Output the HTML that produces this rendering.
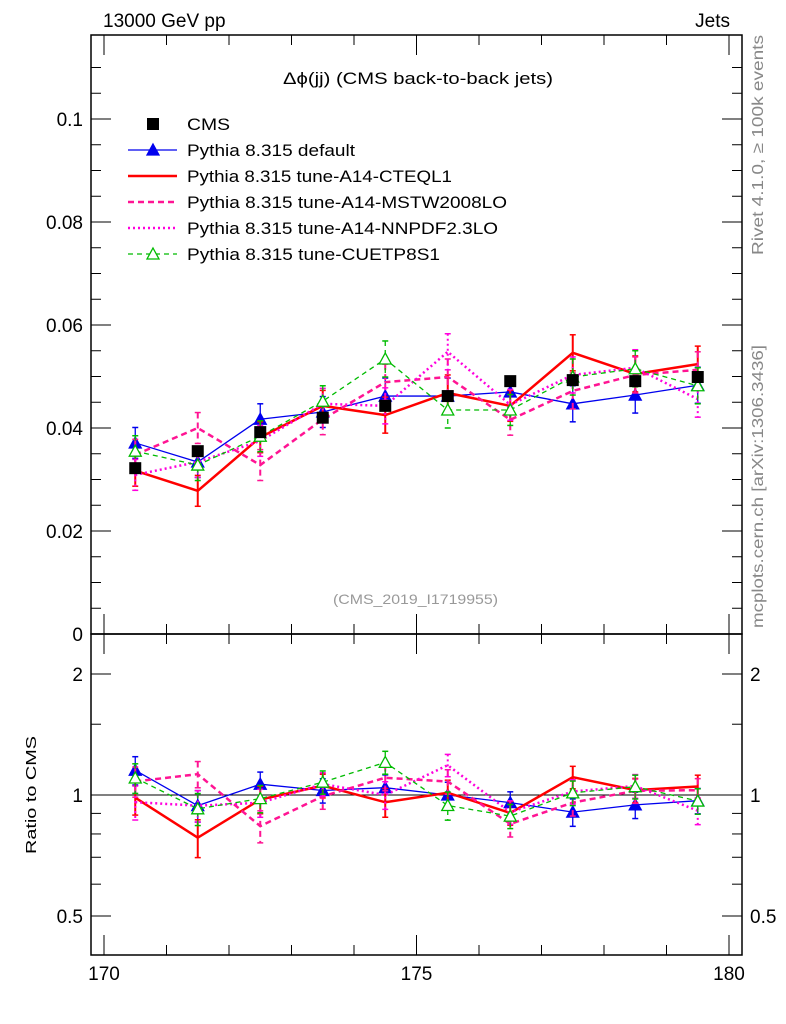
<!DOCTYPE html>
<html><head><meta charset="utf-8"><style>
body{margin:0;background:#fff}
svg{display:block;font-family:"Liberation Sans",sans-serif}
</style></head><body>
<svg id="c" width="786" height="1024" xmlns="http://www.w3.org/2000/svg">
<text x="103" y="27" font-size="19">13000 GeV pp</text>
<text x="730" y="27" font-size="19" text-anchor="end">Jets</text>
<text x="283" y="84" font-size="17" textLength="270" lengthAdjust="spacingAndGlyphs">Δϕ(jj) (CMS back-to-back jets)</text>
<text x="333" y="604" font-size="14" fill="#999" textLength="165" lengthAdjust="spacingAndGlyphs">(CMS_2019_I1719955)</text>
<text transform="translate(763,255) rotate(-90)" font-size="16" fill="#888" textLength="220" lengthAdjust="spacingAndGlyphs">Rivet 4.1.0, ≥ 100k events</text>
<text transform="translate(763,628) rotate(-90)" font-size="16" fill="#888" textLength="283" lengthAdjust="spacingAndGlyphs">mcplots.cern.ch [arXiv:1306.3436]</text>
<text transform="translate(36,854) rotate(-90)" font-size="15" textLength="118" lengthAdjust="spacingAndGlyphs">Ratio to CMS</text>
<g id="axes"></g><g id="marks"></g><g id="legend"></g>
</svg>
<script>
const bins=[170.5,171.5,172.5,173.5,174.5,175.5,176.5,177.5,178.5,179.5];
const cms=[0.0322,0.0355,0.0392,0.0420,0.0443,0.0462,0.0491,0.0493,0.0491,0.0499];
const cmsErr=[0.0010,0.0010,0.0010,0.0010,0.0010,0.0010,0.0010,0.0010,0.0010,0.0010];
const sDefault=[0.0371,0.0334,0.0417,0.0431,0.0462,0.0462,0.0470,0.0447,0.0464,0.0483];
const sCteq=[0.0317,0.0278,0.0382,0.0443,0.0425,0.0468,0.0443,0.0546,0.0505,0.0524];
const sMstw=[0.0348,0.0400,0.0328,0.0417,0.0489,0.0499,0.0416,0.0472,0.0503,0.0513];
const sNnpdf=[0.0309,0.0334,0.0375,0.0447,0.0443,0.0548,0.0445,0.0503,0.0517,0.0456];
const sCuetp=[0.0355,0.0328,0.0384,0.0452,0.0534,0.0435,0.0435,0.0499,0.0515,0.0482];
const mcErr=[0.0030,0.0030,0.0030,0.0030,0.0035,0.0035,0.0030,0.0035,0.0035,0.0035];
const yTicks=[0,0.02,0.04,0.06,0.08,0.1];
const yTickLabels=["0","0.02","0.04","0.06","0.08","0.1"];
const rTicks=[0.5,1,2];
const rTickLabels=["0.5","1","2"];
const xTicks=[170,175,180];
const xTickLabels=["170","175","180"];

const NS="http://www.w3.org/2000/svg";
const L=91,R=742,T=35,M=634,B=955;
const X=v=>104+(v-170)*62.5;
const Y=v=>634-v*5150;
const YR=v=>795-Math.log2(v)*121;
const axes=document.getElementById('axes'),marks=document.getElementById('marks'),leg=document.getElementById('legend');
function mk(p,tag,a){const e=document.createElementNS(NS,tag);for(const k in a)e.setAttribute(k,a[k]);p.appendChild(e);return e;}

let f=mk(axes,'rect',{x:L,y:T,width:R-L,height:M-T,fill:'none',stroke:'#000','stroke-width':1.5});


f=mk(axes,'rect',{x:L,y:M,width:R-L,height:B-M,fill:'none',stroke:'#000','stroke-width':1.5});


for(let v=0;v<=0.115;v+=0.005){const y=Y(v);const maj=Math.abs(v/0.02-Math.round(v/0.02))<1e-6;const l=maj?20:10;
 mk(axes,'line',{x1:L,x2:L+l,y1:y,y2:y,stroke:'#000'});mk(axes,'line',{x1:R,x2:R-l,y1:y,y2:y,stroke:'#000'});}
yTicks.forEach((v,i)=>{const t=mk(axes,'text',{x:83,y:Y(v)+7,'font-size':19,'text-anchor':'end'});t.textContent=yTickLabels[i];
 
 });
[0.5,0.6,0.7,0.8,0.9,1,1.5,2].forEach(v=>{const y=YR(v);const l=(v==0.5||v==1||v==2)?20:10;
 mk(axes,'line',{x1:L,x2:L+l,y1:y,y2:y,stroke:'#000'});mk(axes,'line',{x1:R,x2:R-l,y1:y,y2:y,stroke:'#000'});});
rTicks.forEach((v,i)=>{[83,750].forEach(x=>{const t=mk(axes,'text',{x:x,y:YR(v)+7,'font-size':19,'text-anchor':x<100?'end':'start'});t.textContent=rTickLabels[i];
 
 });});
mk(axes,'line',{x1:L,x2:R,y1:YR(1),y2:YR(1),stroke:'#000'});
for(let v=170;v<=180;v++){const x=X(v);const l=v%5==0?20:10;
 [[T,1],[M,1],[M,-1],[B,-1]].forEach(([y,s])=>mk(axes,'line',{x1:x,x2:x,y1:y,y2:y+s*l,stroke:'#000'}));}
xTicks.forEach((v,i)=>{const t=mk(axes,'text',{x:X(v),y:980,'font-size':19,'text-anchor':'middle'});t.textContent=xTickLabels[i];
 
 });

const series=[
 {d:sDefault,c:'#0000ee',w:1.3,dash:'',m:'tri',name:'Pythia 8.315 default',id:'default',tl:168},
 {d:sCteq,c:'#ff0000',w:2.5,dash:'',m:'',name:'Pythia 8.315 tune-A14-CTEQL1',id:'cteql1',tl:265},
 {d:sMstw,c:'#ff1493',w:2.5,dash:'6,4',m:'',name:'Pythia 8.315 tune-A14-MSTW2008LO',id:'mstw',tl:320},
 {d:sNnpdf,c:'#ff00dd',w:2.5,dash:'2,3',m:'',name:'Pythia 8.315 tune-A14-NNPDF2.3LO',id:'nnpdf',tl:311},
 {d:sCuetp,c:'#00bb00',w:1.3,dash:'5,4',m:'otri',name:'Pythia 8.315 tune-CUETP8S1',id:'cuetp8s1',tl:253}];
function tri(p,x,y,c,open){return mk(p,'path',{d:`M${x},${y-6}L${x+6},${y+5}L${x-6},${y+5}Z`,fill:open?'#fff':c,stroke:c,'stroke-width':1.3});}
series.forEach(s=>{
 [['main',v=>Y(v),(v,i)=>Y(v+mcErr[i]),(v,i)=>Y(v-mcErr[i])],
  ['ratio',(v,i)=>YR(v/cms[i]),(v,i)=>YR((v+mcErr[i])/cms[i]),(v,i)=>YR((v-mcErr[i])/cms[i])]].forEach(([pn,fy,fu,fd])=>{
  const g=mk(marks,'g',{});
  
  
  const pts=s.d.map((v,i)=>X(bins[i])+','+fy(v,i)).join(' ');
  mk(g,'polyline',{points:pts,fill:'none',stroke:s.c,'stroke-width':s.w,'stroke-dasharray':s.dash});
  s.d.forEach((v,i)=>{const x=X(bins[i]);
   mk(g,'line',{x1:x,x2:x,y1:fu(v,i),y2:fd(v,i),stroke:s.c,'stroke-width':s.w>2?2:1.3,'stroke-dasharray':s.dash});
   mk(g,'line',{x1:x-3,x2:x+3,y1:fu(v,i),y2:fu(v,i),stroke:s.c,'stroke-width':1.5});
   mk(g,'line',{x1:x-3,x2:x+3,y1:fd(v,i),y2:fd(v,i),stroke:s.c,'stroke-width':1.5});
   if(s.m)tri(g,x,fy(v,i),s.c,s.m=='otri');});
 });
});
const gd=mk(marks,'g',{});


cms.forEach((v,i)=>{const x=X(bins[i]);
 mk(gd,'line',{x1:x,x2:x,y1:Y(v+cmsErr[i]),y2:Y(v-cmsErr[i]),stroke:'#000','stroke-width':1.5});
 mk(gd,'rect',{x:x-6,y:Y(v)-6,width:12,height:12,fill:'#000'});});

const rows=[{name:'CMS',id:'cms',tl:43}].concat(series);
rows.forEach((s,i)=>{const y=124+i*26;const g=mk(leg,'g',{});
 
 
 if(s.id=='cms')mk(g,'rect',{x:147,y:y-6,width:12,height:12,fill:'#000'});
 else{mk(g,'line',{x1:128,x2:177,y1:y,y2:y,stroke:s.c,'stroke-width':s.w,'stroke-dasharray':s.dash});
  if(s.m)tri(g,153,y,s.c,s.m=='otri');}
 const t=mk(g,'text',{x:187,y:y+6,'font-size':17,textLength:s.tl,lengthAdjust:'spacingAndGlyphs'});t.textContent=s.name;});
</script>
</body></html>
